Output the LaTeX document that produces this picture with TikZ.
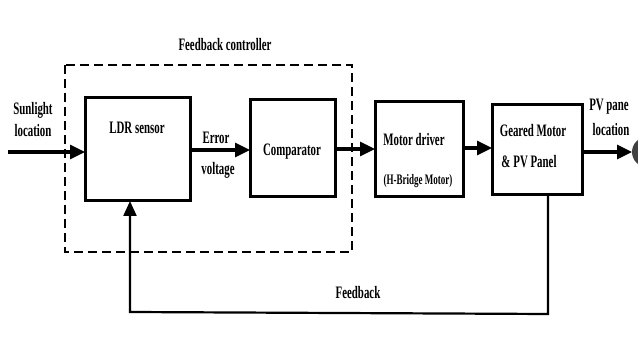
\documentclass[tikz,border=0pt]{standalone}
\usepackage{fontspec}
\setmainfont[FakeStretch=0.62]{Liberation Serif}
\usetikzlibrary{arrows.meta}
\begin{document}
\begin{tikzpicture}[x=1pt,y=-1pt,
  lbl/.style={font=\fontsize{17.5}{18}\selectfont\bfseries,inner sep=0pt},
  sml/.style={font=\fontsize{14.5}{15}\selectfont\bfseries,inner sep=0pt},
  conn/.style={line width=3.2pt,-{Triangle[length=15pt,width=14pt]}},
  fb/.style={line width=2.2pt,-{Triangle[length=15pt,width=13pt]}},
  dashbox/.style={draw,line width=2.5pt,dash pattern=on 9pt off 5pt}]
\useasboundingbox (0,0) rectangle (638,363);
\clip (0,0) rectangle (638,363);
% dashed controller box
\draw[dashbox] (65,65) rectangle (352,252);
\node[lbl] (fctl) at (225,45) {Feedback controller};
% blocks
\draw[line width=3pt] (85,98) rectangle (190,201);
\coordinate (ldrW) at (85,152);
\coordinate (ldrE) at (190,150);
\coordinate (ldrS) at (130,201);
\node[lbl] (ldr) at (137,128) {LDR sensor};
\draw[line width=3pt] (250,100) rectangle (335,197);
\coordinate (cmpW) at (250,150);
\coordinate (cmpE) at (335,149);
\node[lbl] (cmp) at (292,152) {Comparator};
\draw[line width=3pt] (375,102) rectangle (463,197);
\coordinate (mdW) at (375,149);
\coordinate (mdE) at (463,148);
\node[lbl] (md) at (414,140) {Motor driver};
\node[sml] (hb) at (418,181) {(H-Bridge Motor)};
\draw[line width=3pt] (492,105) rectangle (582,195);
\coordinate (gmW) at (492,148);
\coordinate (gmE) at (582,152);
\coordinate (gmS) at (548,195);
\node[lbl] (gm1) at (533,131) {Geared Motor};
\node[lbl] (gm2) at (529,162) {\&\,PV Panel};
% input
\coordinate (in) at (8,152);
\node[lbl] (sun1) at (33,110) {Sunlight};
\node[lbl] (sun2) at (33,131) {location};
\draw[conn] (in) -- (ldrW);
% error voltage
\node[lbl] (err) at (216,138) {Error};
\node[lbl] (volt) at (218,170) {voltage};
\draw[conn] (ldrE) -- (cmpW);
\draw[conn] (cmpE) -- (mdW);
\draw[conn] (mdE) -- (gmW);
% output
\coordinate (out) at (632,152);
\node[lbl] (pv1) at (609,107) {PV pane};
\node[lbl] (pv2) at (611,130) {location};
\draw[conn] (gmE) -- (out);
\fill[black!75] (647,152) circle (15);
% feedback
\coordinate (fbR) at (548,314);
\coordinate (fbL) at (130,312);
\node[lbl] (fbt) at (358,293) {Feedback};
\draw[fb] (gmS) -- (fbR) -- (fbL) -- (ldrS);
\end{tikzpicture}
\end{document}
